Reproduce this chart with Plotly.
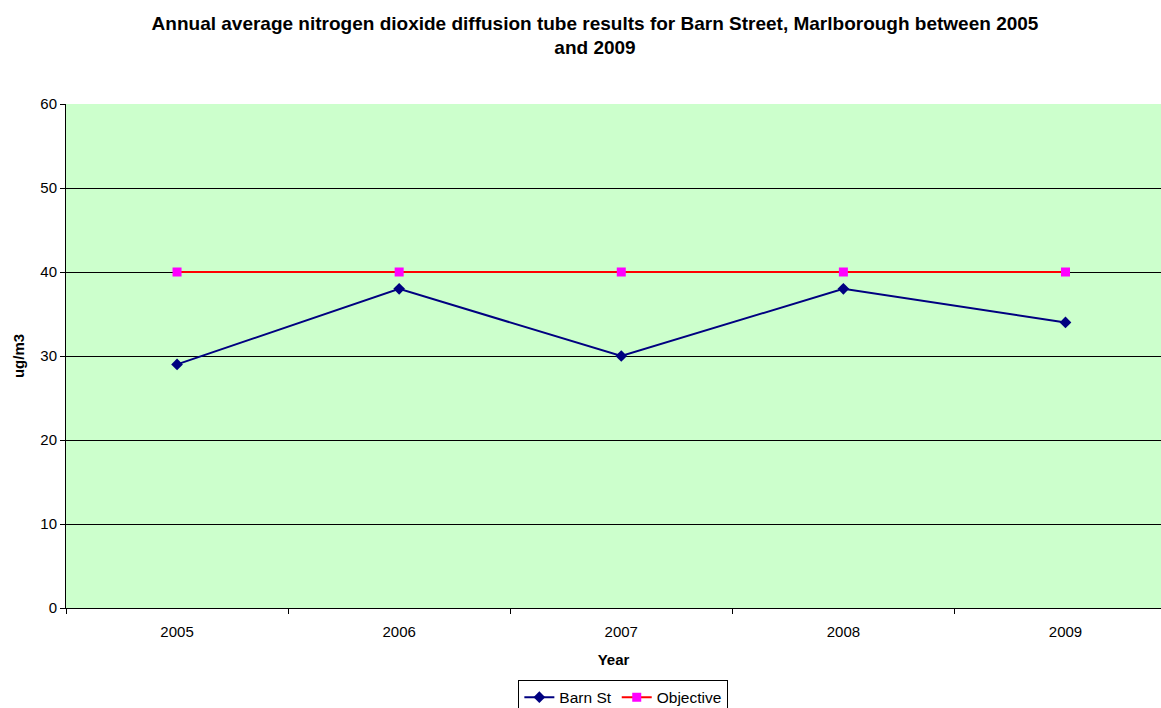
import plotly.graph_objects as go

years = ["2005", "2006", "2007", "2008", "2009"]
barn_st = [29, 38, 30, 38, 34]
objective = [40, 40, 40, 40, 40]

FONT = "Arial, Liberation Sans, sans-serif"

fig = go.Figure()
fig.add_trace(go.Scatter(
    x=years, y=barn_st, name="Barn St", mode="lines+markers",
    line=dict(color="#000080", width=2),
    marker=dict(symbol="diamond", size=9, color="#000080"),
))
fig.add_trace(go.Scatter(
    x=years, y=objective, name="Objective", mode="lines+markers",
    line=dict(color="#FF0000", width=2),
    marker=dict(symbol="square", size=9, color="#FF00FF"),
))

fig.update_layout(
    width=1161, height=708,
    margin=dict(l=66, r=0, t=104, b=100, autoexpand=False),
    paper_bgcolor="white", plot_bgcolor="#CCFFCC",
    font=dict(family=FONT, size=15, color="black"),
    title=dict(
        text="<b>Annual average nitrogen dioxide diffusion tube results for Barn Street, Marlborough between 2005<br>and 2009</b>",
        x=0.5125, xref="container", xanchor="center", y=0.958, yanchor="top",
        font=dict(size=19, family=FONT),
    ),
    showlegend=True,
    legend=dict(
        orientation="h", x=0.509, xanchor="center", y=-0.142, yanchor="top",
        bordercolor="black", borderwidth=1, bgcolor="white",
        font=dict(size=15.5), tracegroupgap=0,
    ),
)
fig.update_xaxes(
    type="category", range=[-0.5, 4.43],
    showline=True, linecolor="black", linewidth=1,
    ticks="outside", ticklen=5, tickcolor="black", tickson="boundaries",
    ticklabelstandoff=10,
    showgrid=False, mirror=False,
    title=dict(text="<b>Year</b>", font=dict(size=15), standoff=15),
)
fig.update_yaxes(
    range=[0, 60], dtick=10,
    showline=True, linecolor="black", linewidth=1,
    ticks="outside", ticklen=5, tickcolor="black",
    showgrid=True, gridcolor="black", gridwidth=1,
    zeroline=False,
    title=dict(text="<b>ug/m3</b>", font=dict(size=15), standoff=12),
)
fig.write_html("out.html", config={"displayModeBar": False},
               post_script="document.body.style.margin='0';document.body.style.overflow='hidden';")
